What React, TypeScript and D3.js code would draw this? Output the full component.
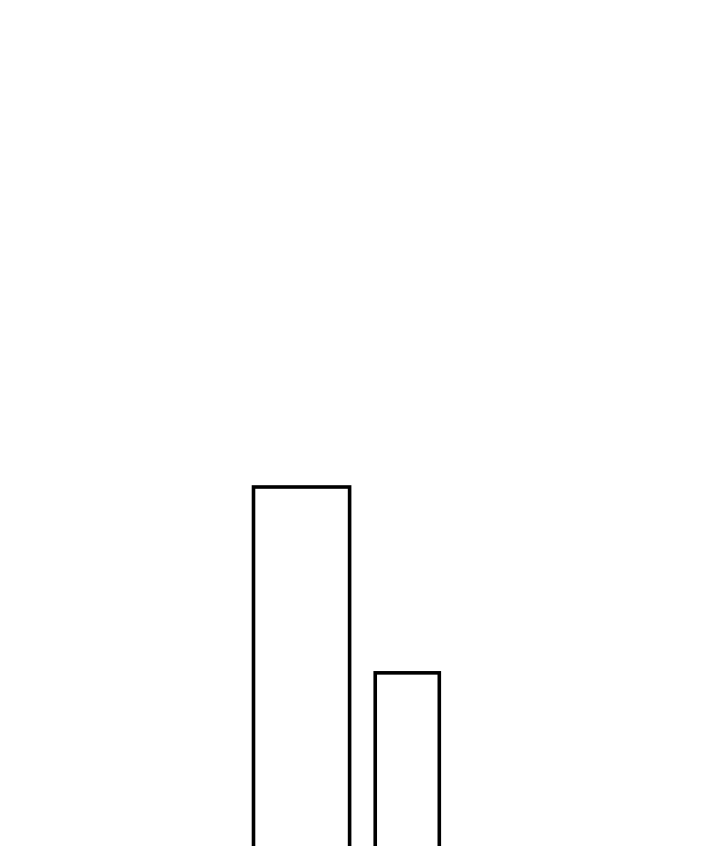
import React, { useEffect, useRef } from 'react';
import * as d3 from 'd3';

// two bars, their values and their relative widths
const categories = ['A', 'B'];
const values = [100, 55];
const weights = [3, 2];

const App: React.FC = () => {
  const chartRef = useRef<SVGSVGElement>(null);

  useEffect(() => {
    if (!chartRef.current) return;
    const svg = d3.select(chartRef.current);
    svg.selectAll('*').remove();

    const gap = 0.8;
    const starts: number[] = [];
    let acc = 0;
    weights.forEach((w, i) => {
      starts.push(acc);
      acc += w + (i < weights.length - 1 ? gap : 0);
    });

    const x = d3.scaleLinear().domain([0, acc]).range([253.5, 439.3]);
    const y = d3.scaleLinear().domain([0, 100]).range([900, 487]);

    svg.append('g')
      .selectAll('rect')
      .data(categories)
      .enter()
      .append('rect')
      .attr('x', (_, i) => x(starts[i]))
      .attr('y', (_, i) => y(values[i]))
      .attr('width', (_, i) => x(starts[i] + weights[i]) - x(starts[i]))
      .attr('height', (_, i) => y(0) - y(values[i]))
      .attr('fill', '#fff')
      .attr('stroke', '#000')
      .attr('stroke-width', 3.6);
  }, []);

  return (
    <svg
      ref={chartRef}
      width={720}
      height={846}
      style={{ position: 'absolute', top: 0, left: 0, display: 'block', background: '#fff' }}
    />
  );
};

export default App;
